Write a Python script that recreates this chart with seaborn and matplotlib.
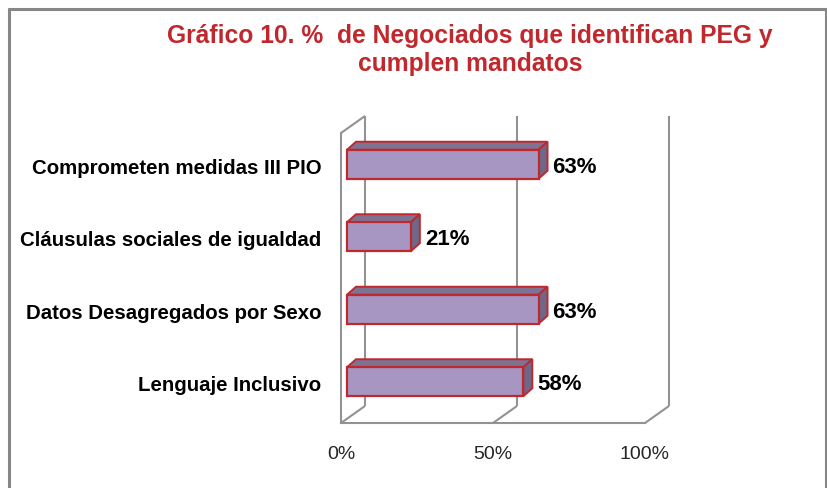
import matplotlib
matplotlib.use("Agg")
import matplotlib.pyplot as plt
from matplotlib.lines import Line2D
from matplotlib.patches import Polygon
from matplotlib.transforms import ScaledTranslation
import seaborn as sns

# data
categories = ["Comprometen medidas III PIO", "Cláusulas sociales de igualdad",
              "Datos Desagregados por Sexo", "Lenguaje Inclusivo"]
values = [63, 21, 63, 58]
value_labels = ["63%", "21%", "63%", "58%"]
xticks = [0, 50, 100]
xtick_labels = ["0%", "50%", "100%"]
title = "Gráfico 10. %  de Negociados que identifican PEG y\ncumplen mandatos"

# colours
FRONT = "#A696C1"
TOP = "#7F7393"
SIDE = "#6E6787"
EDGE = "#C0282D"
GRID = "#929292"
TITLE_RED = "#C0282D"

W, H, DPI = 828, 489, 100
PX_X = 3.04      # pixels per 1%
PX_Y = 72.5      # pixels per category

sns.set_style("white")
plt.rcParams["font.family"] = ["Liberation Sans", "DejaVu Sans"]

fig = plt.figure(figsize=(W / DPI, H / DPI), dpi=DPI)
ax_left, ax_bottom, ax_right, ax_top = 341, 424, 700, 100
ax = fig.add_axes([ax_left / W, (H - ax_bottom) / H,
                   (ax_right - ax_left) / W, (ax_bottom - ax_top) / H])

# chart frame
for (x0, y0, x1, y1) in [(9, 500, 9, 10), (9, 10, 826, 10), (826, 10, 826, 500)]:
    fig.add_artist(Line2D([x0 / W, x1 / W], [1 - y0 / H, 1 - y1 / H],
                          transform=fig.transFigure, color="#868686", lw=2.2))

# bars (front faces)
sns.barplot(x=values, y=categories, orient="h", width=0.4, color=FRONT,
            edgecolor=EDGE, linewidth=1.6, saturation=1, ax=ax, zorder=3)

ax.set_xlim(0, (ax_right - ax_left) / PX_X)
ax.set_ylim(3.5, 3.5 - (ax_bottom - ax_top) / PX_Y)

# 3d depth
dx_back, dy_back = 24 / PX_X, -17 / PX_Y
bar_shift = ScaledTranslation(6 / DPI, 5 / DPI, fig.dpi_scale_trans)
bar_tr = ax.transData + bar_shift
bdx, bdy = 9 / PX_X, -8 / PX_Y

for i, (p, v) in enumerate(zip(ax.patches, values)):
    p.set_transform(bar_tr)
    p.set_clip_on(False)
    y_top, y_bot = i - 0.2, i + 0.2
    top = Polygon([(0, y_top), (v, y_top), (v + bdx, y_top + bdy), (bdx, y_top + bdy)],
                  closed=True, facecolor=TOP, edgecolor=EDGE, lw=1.4,
                  transform=bar_tr, zorder=2.9, clip_on=False)
    side = Polygon([(v, y_top), (v, y_bot), (v + bdx, y_bot + bdy), (v + bdx, y_top + bdy)],
                   closed=True, facecolor=SIDE, edgecolor=EDGE, lw=1.4,
                   transform=bar_tr, zorder=2.9, clip_on=False)
    ax.add_patch(top)
    ax.add_patch(side)
    ax.text(v + 14 / PX_X, i + 2 / PX_Y, value_labels[i], ha="left", va="center",
            fontsize=16, fontweight="bold", color="black",
            transform=bar_tr, clip_on=False)

# walls and floor
line_kw = dict(color=GRID, lw=1.5, zorder=1, clip_on=False, solid_capstyle="butt")
for t in xticks:
    ax.plot([t + dx_back, t + dx_back], [3.5 + dy_back, -0.5 + dy_back], **line_kw)
    ax.plot([t, t + dx_back], [3.5, 3.5 + dy_back], **line_kw)
ax.plot([0, dx_back], [-0.5, -0.5 + dy_back], **line_kw)

for side_name in ["top", "right"]:
    ax.spines[side_name].set_visible(False)
for side_name in ["left", "bottom"]:
    ax.spines[side_name].set_color(GRID)
    ax.spines[side_name].set_linewidth(1.5)
ax.spines["bottom"].set_bounds(0, 100)
ax.spines["left"].set_bounds(-0.5, 3.5)

ax.set_xticks(xticks)
ax.set_xticklabels(xtick_labels, fontsize=14, color="#262626")
ax.tick_params(axis="x", length=5, width=1.5, color=GRID, pad=11, direction="out")
ax.set_yticks([-0.5, 0.5, 1.5, 2.5, 3.5], minor=True)
ax.tick_params(axis="y", which="minor", length=5, width=1.5, color=GRID, direction="out")
ax.tick_params(axis="y", which="major", length=0, pad=14)
label_up = ScaledTranslation(0, 4 / DPI, fig.dpi_scale_trans)
for lbl in ax.get_yticklabels():
    lbl.set_fontsize(14.7)
    lbl.set_fontweight("bold")
    lbl.set_color("black")
    lbl.set_transform(lbl.get_transform() + label_up)
ax.set_xlabel("")
ax.set_ylabel("")

fig.text(470 / W, 1 - 50 / H, title, ha="center", va="center", multialignment="center",
         fontsize=17.7, fontweight="bold", color=TITLE_RED, linespacing=1.19)

fig.savefig("out.png", dpi=DPI, facecolor="white")
